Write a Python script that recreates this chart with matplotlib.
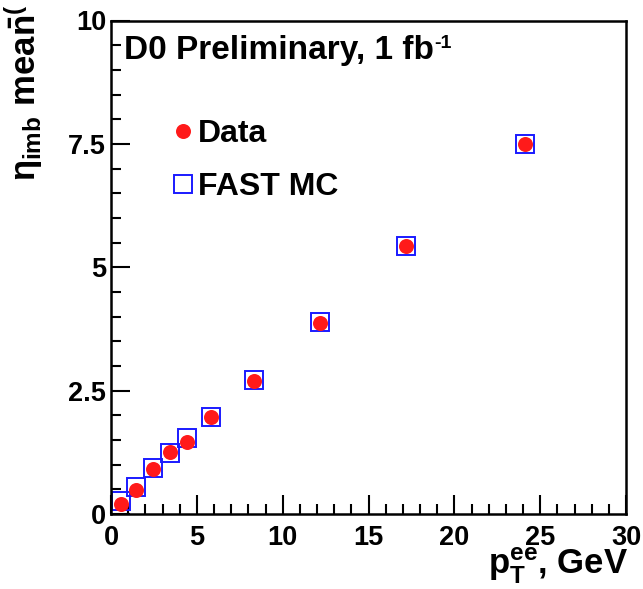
import numpy as np
import matplotlib.pyplot as plt
from matplotlib.ticker import MultipleLocator

plt.rcParams['font.family'] = ['Liberation Sans', 'DejaVu Sans']
plt.rcParams['font.weight'] = 'bold'
plt.rcParams['mathtext.fontset'] = 'custom'
plt.rcParams['mathtext.rm'] = 'Liberation Sans:bold'
plt.rcParams['mathtext.it'] = 'Liberation Sans:bold'
plt.rcParams['mathtext.bf'] = 'Liberation Sans:bold'

# pT bins (GeV) and mean eta_imb
pt_data = [0.58, 1.47, 2.45, 3.44, 4.4, 5.82, 8.33, 12.2, 17.2, 24.1]
eta_data = [0.21, 0.48, 0.91, 1.25, 1.46, 1.97, 2.70, 3.87, 5.44, 7.50]
pt_mc = [0.58, 1.47, 2.45, 3.44, 4.4, 5.82, 8.33, 12.2, 17.2, 24.1]
eta_mc = [0.27, 0.55, 0.93, 1.23, 1.53, 1.96, 2.72, 3.89, 5.43, 7.50]

fig = plt.figure(figsize=(6.43, 5.89), dpi=100)
ax = fig.add_axes([111/643, 1-514/589, (626-111)/643, (514-20.5)/589])

ax.plot(pt_mc, eta_mc, 's', ms=13, mfc='none', mec='#1a1aff', mew=1.4,
        label='FAST MC', zorder=2)
ax.plot(pt_data, eta_data, 'o', ms=10.8, color='#ff1a1a', mec='none',
        label='Data', zorder=3)

ax.set_xlim(0, 30)
ax.set_ylim(0, 10)
ax.xaxis.set_major_locator(MultipleLocator(5))
ax.xaxis.set_minor_locator(MultipleLocator(1))
ax.yaxis.set_minor_locator(MultipleLocator(0.5))
ax.set_yticks([0, 2.5, 5, 7.5, 10])
ax.set_yticklabels(['0', '2.5', '5', '7.5', '10'])
ax.tick_params(which='both', direction='in', top=False, right=False,
               width=1.5, labelsize=19.5)
ax.tick_params(which='major', length=14)
ax.tick_params(which='minor', length=7)
ax.tick_params(axis='x', pad=8)
ax.tick_params(axis='y', pad=3.5)
for s in ax.spines.values():
    s.set_linewidth(1.8)

t = fig.text(124/643, 1-51/589, 'D0 Preliminary, 1 fb', fontsize=24,
             fontweight='bold', va='center', ha='left')
ax.annotate('-1', xy=(1.0, 1.02), xycoords=t, va='top', ha='left',
            fontsize=14, fontweight='bold')

h, l = ax.get_legend_handles_labels()
ax.legend([h[1], h[0]], [l[1], l[0]], loc='upper left',
          bbox_to_anchor=(173/643, 1-119/589), bbox_transform=fig.transFigure,
          frameon=False, borderpad=0, borderaxespad=0,
          handletextpad=0.17, handlelength=0.6, labelspacing=0.73,
          prop={'weight': 'bold', 'size': 23})

fig.text(628/643, 1-566/589, r'p$_{\mathbf{T}}^{\mathbf{ee}}$, GeV', fontsize=25,
         fontweight='bold', ha='right', va='center')
fig.text(24/643, 1-93/589, r'$\eta_{\mathrm{imb}}\ \mathrm{mea}\bar{\mathrm{n}}^{(}$',
         fontsize=25, fontweight='bold', rotation=90, ha='center', va='center')

fig.savefig('out.png', dpi=100)
